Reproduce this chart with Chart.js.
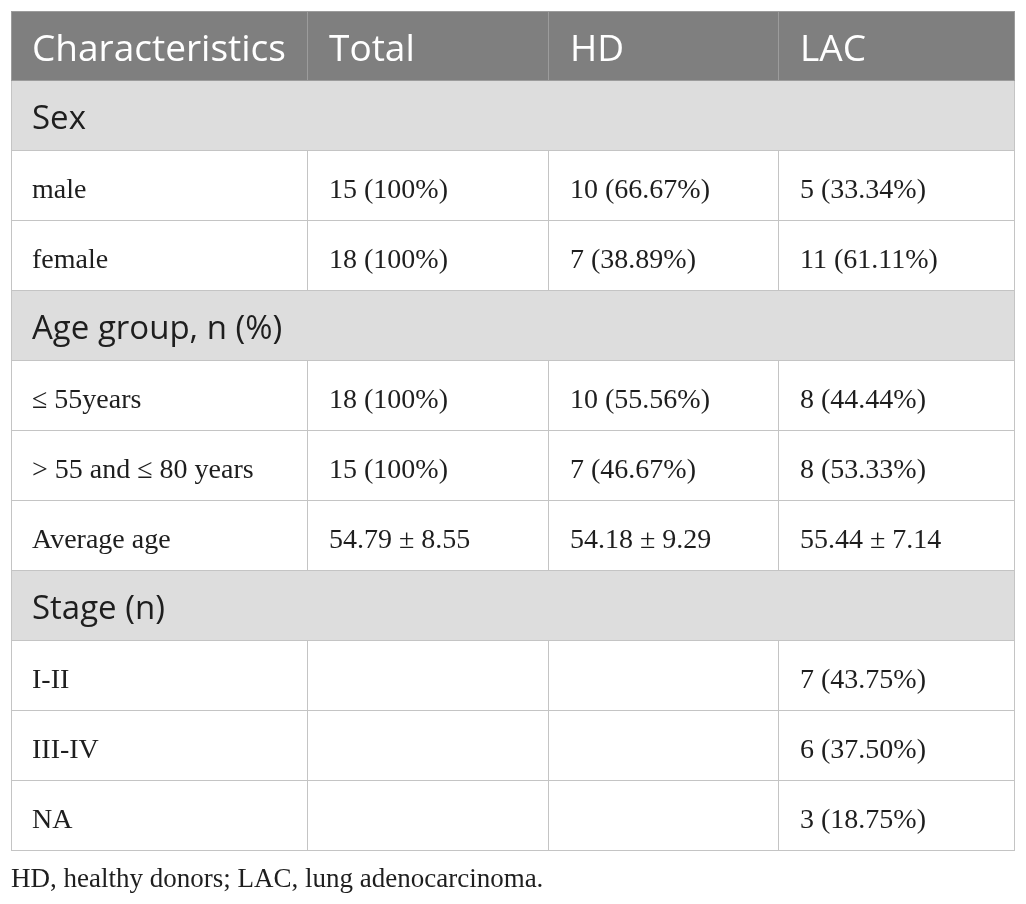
<!DOCTYPE html>
<html>
<head>
<meta charset="utf-8">
<script src="https://cdn.jsdelivr.net/npm/chart.js@4"></script>
<style>
  html, body { margin: 0; padding: 0; background: #ffffff; }
  #wrap { width: 1026px; height: 904px; position: relative; }
</style>
</head>
<body>
<div id="wrap"><canvas id="c"></canvas></div>
<script>
// ---- data ----
const columns = ['Characteristics', 'Total', 'HD', 'LAC'];
const rowLabels = ['Sex', 'male', 'female', 'Age group, n (%)', '≤ 55years', '> 55 and ≤ 80 years', 'Average age', 'Stage (n)', 'I-II', 'III-IV', 'NA'];
const sectionRows = ['Sex', 'Age group, n (%)', 'Stage (n)'];
const totalValues = ['', '15 (100%)', '18 (100%)', '', '18 (100%)', '15 (100%)', '54.79 ± 8.55', '', '', '', ''];
const hdValues = ['', '10 (66.67%)', '7 (38.89%)', '', '10 (55.56%)', '7 (46.67%)', '54.18 ± 9.29', '', '', '', ''];
const lacValues = ['', '5 (33.34%)', '11 (61.11%)', '', '8 (44.44%)', '8 (53.33%)', '55.44 ± 7.14', '', '7 (43.75%)', '6 (37.50%)', '3 (18.75%)'];
const footnote = 'HD, healthy donors; LAC, lung adenocarcinoma.';

// ---- layout ----
const colEdges = [0, 297, 538, 768, 1004];
const tableWidth = 1004;
const headerBg = '#7f7f7f';
const sectionBg = '#dddddd';
const cellBg = '#ffffff';
const lineColor = '#c4c4c4';
const headerLine = '#9c9c9c';
const textColor = '#1e1e1e';
const cellPad = 21;

const allRows = [columns[0]].concat(rowLabels);
const valueCols = [null, totalValues, hdValues, lacValues];
const isSection = i => i > 0 && sectionRows.includes(allRows[i]);

const datasets = columns.map((col, c) => ({
  label: col,
  grouped: false,
  barPercentage: 1,
  categoryPercentage: 1,
  borderSkipped: false,
  borderRadius: 0,
  inflateAmount: 0,
  data: allRows.map((r, i) => {
    if (isSection(i)) return c === 0 ? [0, tableWidth] : null;
    return [colEdges[c], colEdges[c + 1]];
  }),
  backgroundColor: allRows.map((r, i) => i === 0 ? headerBg : (isSection(i) ? sectionBg : cellBg)),
  borderColor: allRows.map((r, i) => i === 0 ? headerLine : lineColor),
  borderWidth: allRows.map((r, i) => ({
    top: i === 0 ? 1 : 0,
    bottom: 1,
    left: c === 0 ? 1 : 0,
    right: 1
  }))
}));

const textPlugin = {
  id: 'tableText',
  afterDatasetsDraw(chart) {
    const ctx = chart.ctx;
    const xs = chart.scales.x, ys = chart.scales.y;
    ctx.save();
    ctx.textAlign = 'left';
    ctx.textBaseline = 'alphabetic';
    allRows.forEach((r, i) => {
      const yc = ys.getPixelForValue(i);
      if (i === 0) {
        ctx.font = '37px "Open Sans"';
        ctx.fillStyle = '#ffffff';
        columns.forEach((t, c) => {
          ctx.fillText(t, xs.getPixelForValue(colEdges[c]) + cellPad, yc + 14.5);
        });
      } else if (isSection(i)) {
        ctx.font = '33px "Open Sans"';
        ctx.fillStyle = textColor;
        ctx.fillText(r, xs.getPixelForValue(colEdges[0]) + cellPad, yc + 13);
      } else {
        ctx.font = '28px "Liberation Serif"';
        ctx.fillStyle = textColor;
        ctx.fillText(r, xs.getPixelForValue(colEdges[0]) + cellPad, yc + 12);
        for (let c = 1; c < 4; c++) {
          const v = valueCols[c][i - 1];
          if (v) ctx.fillText(v, xs.getPixelForValue(colEdges[c]) + cellPad, yc + 12);
        }
      }
    });
    // footnote under the table
    ctx.font = '27px "Liberation Serif"';
    ctx.fillStyle = textColor;
    ctx.fillText(footnote, xs.getPixelForValue(0), ys.bottom + 36);
    ctx.restore();
  }
};

new Chart(document.getElementById('c'), {
  type: 'bar',
  data: { labels: allRows, datasets },
  options: {
    indexAxis: 'y',
    responsive: true,
    maintainAspectRatio: false,
    animation: false,
    layout: { padding: { left: 11, right: 11, top: 11, bottom: 53 } },
    plugins: { legend: { display: false }, tooltip: { enabled: false } },
    scales: {
      x: { type: 'linear', min: 0, max: tableWidth, display: false },
      y: { type: 'category', display: false, offset: true, grid: { display: false } }
    }
  },
  plugins: [textPlugin]
});
</script>
</body>
</html>
